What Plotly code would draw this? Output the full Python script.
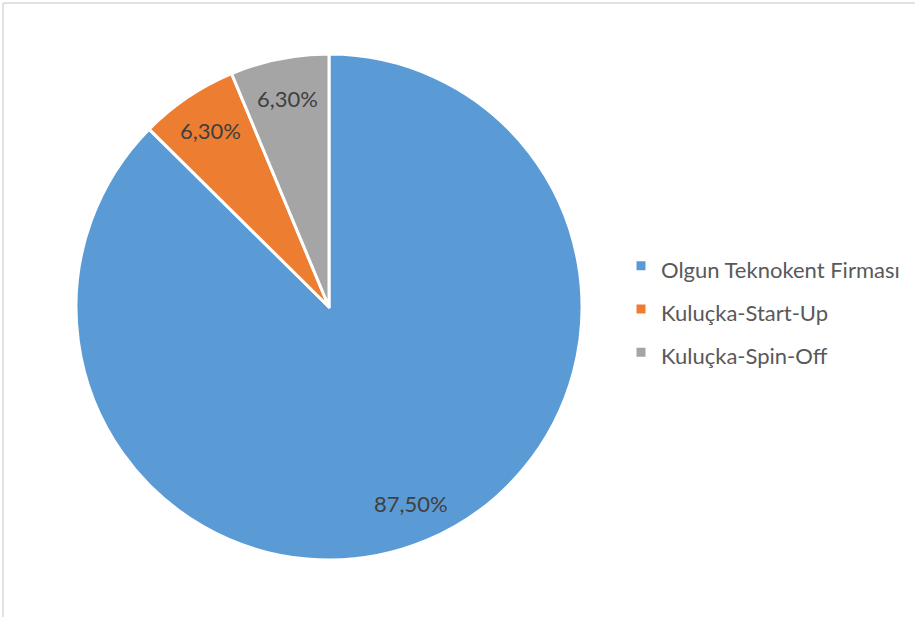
import math
import plotly.graph_objects as go

labels = ['Olgun Teknokent Firması', 'Kuluçka-Start-Up', 'Kuluçka-Spin-Off']
values = [87.5, 6.3, 6.3]
text_labels = ['87,50%', '6,30%', '6,30%']
colors = ['#5B9BD5', '#ED7D31', '#A5A5A5']

W, H = 915, 617
# pie box in pixels
px0, px1, py0, py1 = 76, 582, 54, 560
cx, cy = (px0 + px1) / 2, (py0 + py1) / 2
R = (px1 - px0) / 2
label_r = 0.84

fig = go.Figure(go.Pie(
    labels=['<span style="font-size:22px">' + l + '</span>' for l in labels],
    values=values,
    textinfo='none',
    sort=False,
    direction='clockwise',
    rotation=0,
    marker=dict(colors=colors, line=dict(color='white', width=3)),
    domain=dict(x=[px0 / W, px1 / W], y=[(H - py1) / H, (H - py0) / H]),
    hoverinfo='percent',
))

# data labels at the middle angle of each slice
annotations = []
total = sum(values)
cum = 0
for v, t in zip(values, text_labels):
    ang = (cum + v / 2) / total * 2 * math.pi
    cum += v
    x = cx + label_r * R * math.sin(ang)
    y = cy - label_r * R * math.cos(ang)
    annotations.append(dict(x=x / W, y=1 - y / H, xref='paper', yref='paper', text=t,
                            showarrow=False, xanchor='center', yanchor='middle',
                            font=dict(family='Lato', size=22, color='#404040')))

fig.update_layout(
    width=W, height=H,
    margin=dict(l=0, r=0, t=0, b=0),
    paper_bgcolor='white',
    plot_bgcolor='white',
    showlegend=True,
    legend=dict(
        x=621 / W, y=(H - 309) / H,
        xanchor='left', yanchor='middle',
        font=dict(family='Lato', size=31, color='#595959'),
    ),
    annotations=annotations,
    shapes=[
        dict(type='line', xref='paper', yref='paper', x0=3 / W, x1=1, y0=1 - 3 / H, y1=1 - 3 / H,
             line=dict(color='#d9d9d9', width=1.5)),
        dict(type='line', xref='paper', yref='paper', x0=3 / W, x1=3 / W, y0=0, y1=1 - 3 / H,
             line=dict(color='#d9d9d9', width=1.5)),
    ],
)

fig.write_html('out.html', config={'displayModeBar': False},
               post_script="document.body.style.margin='0';")
